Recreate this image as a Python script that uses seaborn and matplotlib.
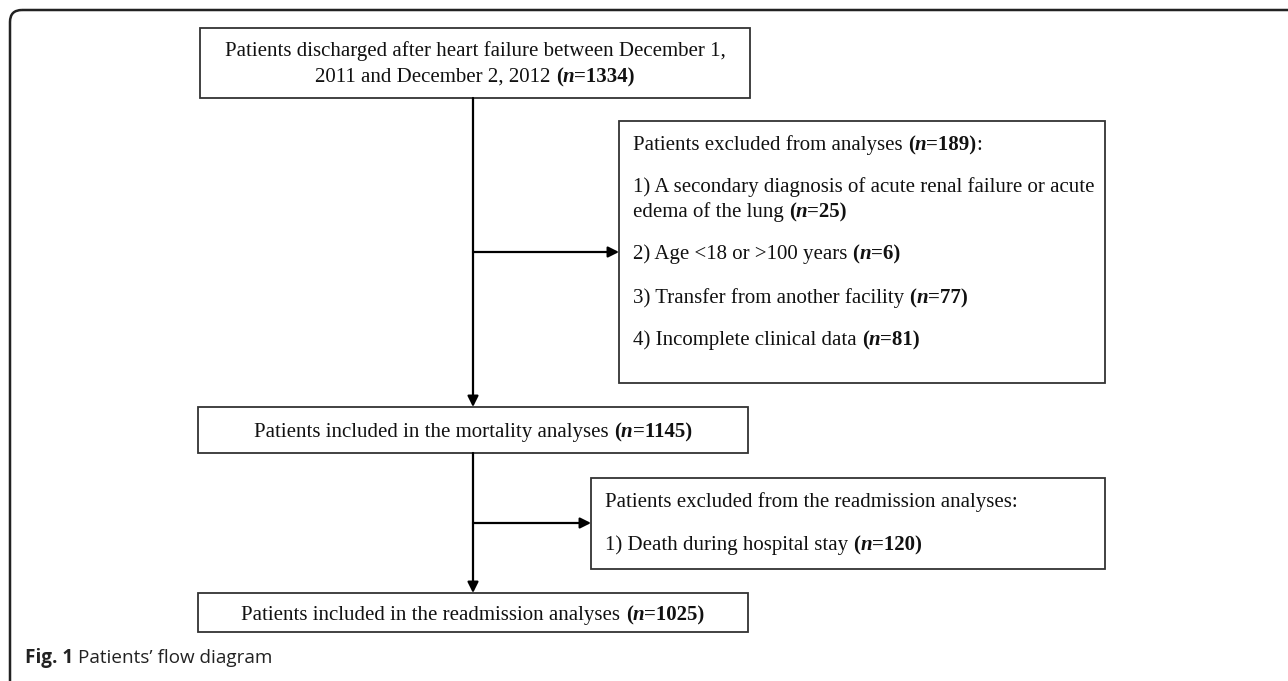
import matplotlib
matplotlib.use("Agg")
import matplotlib.pyplot as plt
import seaborn as sns
from matplotlib.patches import FancyBboxPatch, Rectangle

# Flow counts
n_total = 1334
n_excluded = 189
excl_labels = [
    ["1) A secondary diagnosis of acute renal failure or acute", "edema of the lung"],
    ["2) Age <18 or >100 years"],
    ["3) Transfer from another facility"],
    ["4) Incomplete clinical data"],
]
excl_counts = [25, 6, 77, 81]
n_mortality = 1145
readm_excl_labels = ["1) Death during hospital stay"]
readm_excl_counts = [120]
n_readmission = 1025
caption_bold = "Fig. 1"
caption_text = "Patients\u2019 flow diagram"

sns.set_theme(style="white")
plt.rcParams["font.family"] = ["Liberation Serif", "DejaVu Serif"]

W, H = 1288, 681
fig = plt.figure(figsize=(W / 100, H / 100), dpi=100)
ax = fig.add_axes([0, 0, 1, 1])
ax.set_xlim(0, W)
ax.set_ylim(H, 0)
ax.axis("off")
renderer = fig.canvas.get_renderer()

FS = 15
BOX_C = "#333333"


def txt_width(s, **kw):
    t = ax.text(0, 0, s, fontsize=FS, **kw)
    w = t.get_window_extent(renderer).width
    t.remove()
    return w


space_w = txt_width("a a") - txt_width("aa")


def rich_line(x, y, segs, align="left"):
    # segs: (text, weight, style); trailing space means a gap after it
    items = []
    for s, wt, st in segs:
        t = ax.text(0, y, s.strip(), fontsize=FS, fontweight=wt, fontstyle=st,
                    va="baseline", ha="left", color="#111111")
        items.append((t, t.get_window_extent(renderer).width, s.endswith(" ")))
    total = sum(w + (space_w if sp else 0) for _, w, sp in items)
    cur = x - total / 2 if align == "center" else x
    for t, w, sp in items:
        t.set_x(cur)
        cur += w + (space_w if sp else 0)


def count_segs(n, tail=""):
    return [("(", "bold", "normal"), ("n", "bold", "italic"),
            ("=%d)" % n, "bold", "normal")] + ([(tail, "normal", "normal")] if tail else [])


def box(x0, y0, x1, y1):
    ax.add_patch(Rectangle((x0, y0), x1 - x0, y1 - y0, fill=False,
                           ec=BOX_C, lw=1.3))


def arrow(x0, y0, x1, y1):
    ax.annotate("", xy=(x1, y1), xytext=(x0, y0),
                arrowprops=dict(arrowstyle="-|>", color="black", lw=1.6,
                                mutation_scale=16, shrinkA=0, shrinkB=0))


# outer frame (only top and left visible)
ax.add_patch(FancyBboxPatch((10, 10), 1400, 800,
                            boxstyle="round,pad=0,rounding_size=12",
                            fill=False, ec="#222222", lw=1.8))

# box 1
box(200, 28, 750, 98)
rich_line(475, 56, [("Patients discharged after heart failure between December 1,", "normal", "normal")], "center")
rich_line(475, 82, [("2011 and December 2, 2012 ", "normal", "normal")] + count_segs(n_total), "center")

# box 2: exclusions
box(619, 121, 1105, 383)
rich_line(633, 150, [("Patients excluded from analyses ", "normal", "normal")] + count_segs(n_excluded, ":"))
ys = [192, 259, 303, 345]
for lines, c, y in zip(excl_labels, excl_counts, ys):
    for k, line in enumerate(lines):
        yy = y + k * 25
        if k == len(lines) - 1:
            rich_line(633, yy, [(line + " ", "normal", "normal")] + count_segs(c))
        else:
            rich_line(633, yy, [(line, "normal", "normal")])

# box 3: mortality
box(198, 407, 748, 453)
rich_line(473, 437, [("Patients included in the mortality analyses ", "normal", "normal")] + count_segs(n_mortality), "center")

# box 4: readmission exclusions
box(591, 478, 1105, 569)
rich_line(605, 507, [("Patients excluded from the readmission analyses:", "normal", "normal")])
for lab, c in zip(readm_excl_labels, readm_excl_counts):
    rich_line(605, 550, [(lab + " ", "normal", "normal")] + count_segs(c))

# box 5: readmission
box(198, 593, 748, 632)
rich_line(473, 620, [("Patients included in the readmission analyses ", "normal", "normal")] + count_segs(n_readmission), "center")

# connectors
arrow(473, 98, 473, 407)
arrow(473, 252, 619, 252)
arrow(473, 453, 473, 593)
arrow(473, 523, 591, 523)

# caption
cap_kw = dict(fontsize=13.6, va="baseline", family=["Open Sans", "DejaVu Sans"], color="#222222")
t = ax.text(25, 663, caption_bold, fontweight="bold", **cap_kw)
cw = t.get_window_extent(renderer).width
ax.text(25 + cw + 5, 663, caption_text, **cap_kw)

fig.savefig("out.png", dpi=100)
